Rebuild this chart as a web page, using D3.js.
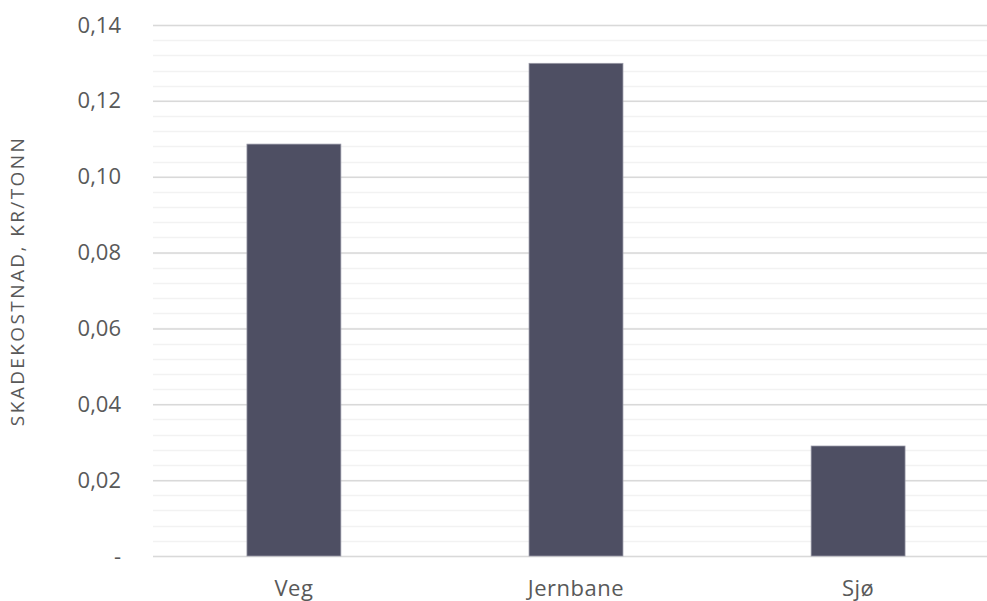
<!DOCTYPE html>
<html>
<head>
<meta charset="utf-8">
<script src="https://cdn.jsdelivr.net/npm/d3@7"></script>
<style>
	body { margin: 0; background: #fff; }
	text { font-family: "Open Sans", "Noto Sans", sans-serif; fill: #595959; }
</style>
</head>
<body>
<svg id="chart" width="987" height="601"></svg>
<script>
const categories = ['Veg', 'Jernbane', 'Sjø'];
const values = [0.1086, 0.1299, 0.029];
const majorTicks = [0, 0.02, 0.04, 0.06, 0.08, 0.10, 0.12, 0.14];
const minorTicks = d3.range(0, 0.1401, 0.004);
const yTitle = 'SKADEKOSTNAD, KR/TONN';

const svg = d3.select('#chart');
const margin = {top: 25, left: 153, bottom: 45};
const height = 601 - margin.top - margin.bottom;

const x = d3.scaleBand()
	.domain(categories)
	.range([margin.left, margin.left + 846])
	.paddingInner(0.667)
	.paddingOuter(0.333);

const y = d3.scaleLinear()
	.domain([0, 0.14])
	.range([margin.top + height, margin.top]);

// minor gridlines
svg.append('g')
	.selectAll('line')
	.data(minorTicks)
	.join('line')
	.attr('x1', margin.left).attr('x2', 987)
	.attr('y1', d => Math.round(y(d)) + 0.5)
	.attr('y2', d => Math.round(y(d)) + 0.5)
	.attr('stroke', '#f2f2f2')
	.attr('stroke-width', 1.5);

// major gridlines + labels
const fmt = d => d === 0 ? '-' : d3.format('.2f')(d).replace('.', ',');
const yAxis = svg.append('g')
	.attr('transform', `translate(${margin.left},0)`)
	.call(d3.axisLeft(y).tickValues(majorTicks).tickFormat(fmt).tickSize(0).tickPadding(32));
yAxis.select('.domain').remove();
yAxis.selectAll('text').attr('font-size', 22).style('fill', '#595959');
yAxis.selectAll('.tick').append('line')
	.attr('x1', 0).attr('x2', 987 - margin.left)
	.attr('stroke', '#d9d9d9')
	.attr('stroke-width', 1.5);

// bars
svg.append('g')
	.selectAll('rect')
	.data(values)
	.join('rect')
	.attr('x', (d, i) => x(categories[i]))
	.attr('width', x.bandwidth())
	.attr('y', d => y(d))
	.attr('height', d => y(0) - y(d))
	.attr('fill', '#4e4f63')
	.attr('stroke', '#9a9aa8')
	.attr('stroke-width', 0.75);

// x axis labels
const xAxis = svg.append('g')
	.attr('transform', `translate(0,${y(0)})`)
	.call(d3.axisBottom(x).tickSize(0).tickPadding(24));
xAxis.select('.domain').remove();
xAxis.selectAll('text')
	.attr('font-size', 22)
	.attr('letter-spacing', 0.5)
	.style('fill', '#595959');

// y title
svg.append('text')
	.attr('transform', `translate(24,281) rotate(-90)`)
	.attr('text-anchor', 'middle')
	.attr('font-size', 19)
	.attr('letter-spacing', 2.4)
	.text(yTitle);
</script>
</body>
</html>
